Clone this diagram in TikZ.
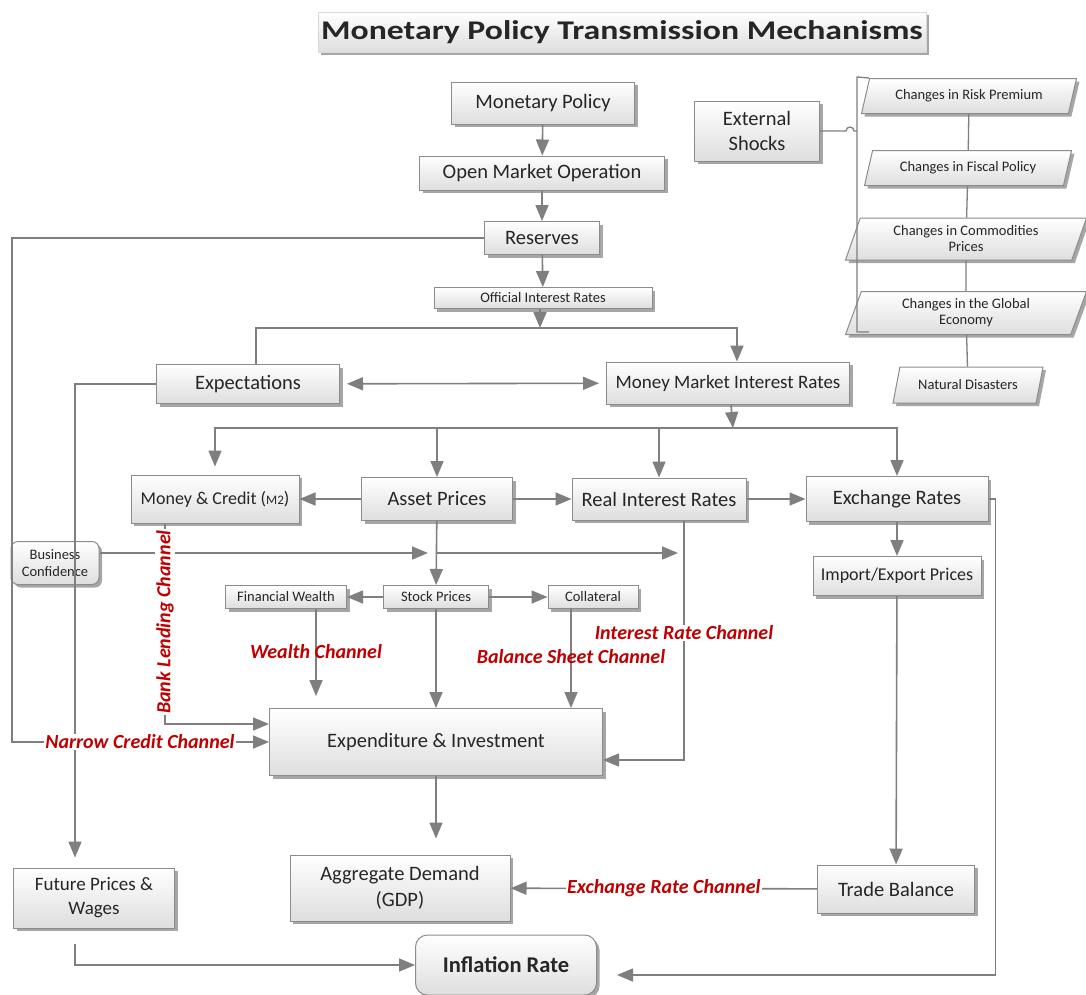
\documentclass[tikz,border=0pt]{standalone}
\usepackage{fontspec}
\setmainfont{Carlito}
\usetikzlibrary{arrows.meta,shapes.geometric,shadows}
\definecolor{linegray}{HTML}{7F7F7F}
\definecolor{boxline}{HTML}{8C8C8C}
\definecolor{chanred}{HTML}{C00000}
\tikzset{
  mbox/.style={draw=boxline, line width=1pt, top color=white, bottom color=black!13,
    drop shadow={shadow xshift=3pt, shadow yshift=-3pt, fill=black, opacity=.35},
    align=center, inner sep=2pt, text=black!85, font=\fontsize{20.5}{25}\selectfont},
  smallbox/.style={mbox, font=\fontsize{14.5}{17}\selectfont},
  shock/.style={mbox, trapezium, trapezium left angle=64, trapezium right angle=116,
    trapezium stretches body, font=\fontsize{14.5}{16}\selectfont},
  channel/.style={text=chanred, inner sep=1pt, font=\fontsize{20}{22}\selectfont\bfseries\itshape},
  flow/.style={draw=linegray, line width=1.6pt},
  wire/.style={draw=linegray, line width=1.3pt}
}
\begin{document}
\begin{tikzpicture}[x=1pt, y=-1pt, >={Triangle[length=16pt,width=13pt]}]
    \fill[white] (0,0) rectangle (1086,994);
    \useasboundingbox (0,0) rectangle (1086,994);

    % Title
    \node[mbox, draw=black!15, minimum width=608pt, minimum height=40pt,
      font=\fontsize{27}{30}\selectfont\bfseries] (title) at (622,32)
      {\scalebox{1.25}[1]{Monetary Policy Transmission Mechanisms}};

    % Main chain from the central bank
    \node[mbox, minimum width=183pt, minimum height=42pt] (mp) at (543,103) {Monetary Policy};
    \node[mbox, minimum width=245pt, minimum height=34pt] (omo) at (542,173) {Open Market Operation};
    \node[mbox, minimum width=115pt, minimum height=33pt] (res) at (542,238) {Reserves};
    \node[smallbox, minimum width=218pt, minimum height=21pt] (oir) at (543,298) {Official Interest Rates};

    % External shocks and their sources
    \node[mbox, minimum width=125pt, minimum height=60pt] (es) at (757,131) {External\\Shocks};
    \node[shock, minimum width=215pt, minimum height=35pt] (rp) at (969,96) {Changes in Risk Premium};
    \node[shock, minimum width=207pt, minimum height=35pt] (fp) at (968,168) {Changes in Fiscal Policy};
    \node[shock, minimum width=241pt, minimum height=42pt] (cp) at (966,239) {Changes in Commodities\\Prices};
    \node[shock, minimum width=241pt, minimum height=43pt] (ge) at (966,313) {Changes in the Global\\Economy};
    \node[shock, minimum width=150pt, minimum height=36pt] (nd) at (968,385) {Natural Disasters};

    % Market rates and expectations
    \node[mbox, minimum width=183pt, minimum height=39pt] (expct) at (248,384) {Expectations};
    \node[mbox, minimum width=243pt, minimum height=42pt, font=\fontsize{19}{22}\selectfont] (mmir) at (728,383) {Money Market Interest Rates};

    % Second row
    \node[mbox, minimum width=168pt, minimum height=48pt, font=\fontsize{18}{21}\selectfont] (mc) at (215,499)
      {Money \& Credit ({\fontsize{13}{13}\selectfont M2})};
    \node[mbox, minimum width=151pt, minimum height=43pt] (ap) at (437,499) {Asset Prices};
    \node[mbox, minimum width=174pt, minimum height=42pt] (rir) at (659,499) {Real Interest Rates};
    \node[mbox, minimum width=182pt, minimum height=45pt] (er) at (897,499) {Exchange Rates};
    \node[mbox, minimum width=168pt, minimum height=39pt, font=\fontsize{18}{21}\selectfont] (iep) at (897,576) {Import/Export Prices};

    % Small boxes under asset prices
    \node[smallbox, rounded corners=7pt, minimum width=88pt, minimum height=43pt] (bc) at (55,563) {Business\\Confidence};
    \node[smallbox, minimum width=121pt, minimum height=23pt] (fw) at (286,597) {Financial Wealth};
    \node[smallbox, minimum width=105pt, minimum height=23pt] (sp) at (436,597) {Stock Prices};
    \node[smallbox, minimum width=90pt, minimum height=23pt] (col) at (593,597) {Collateral};

    % Lower part
    \node[mbox, minimum width=333pt, minimum height=67pt] (ei) at (436,742) {Expenditure \& Investment};
    \node[mbox, minimum width=220pt, minimum height=66pt, font=\fontsize{20.5}{26}\selectfont] (ad) at (400,888) {Aggregate Demand\\(GDP)};
    \node[mbox, minimum width=157pt, minimum height=48pt] (tb) at (896,889) {Trade Balance};
    \node[mbox, minimum width=161pt, minimum height=60pt, font=\fontsize{19}{24}\selectfont] (fpw) at (94,898) {Future Prices \&\\Wages};
    \node[mbox, rounded corners=12pt, minimum width=181pt, minimum height=60pt,
      font=\fontsize{22.5}{26}\selectfont\bfseries] (ir) at (506,965) {Inflation Rate};

    % Arrows of the main chain
    \draw[flow, ->] (mp) -- (omo);
    \draw[flow, ->] (omo) -- (res);
    \draw[flow, ->] (res) -- (oir);
    \coordinate (oirsplit) at (540,328);
    \draw[flow, ->] (oir.south -| oirsplit) -- (oirsplit);
    \draw[flow, ->] ([xshift=8pt]expct.north) |- (oirsplit) -| ([xshift=9pt]mmir.north);
    \draw[flow, <->, shorten <=7pt, shorten >=7pt] (expct) -- (mmir);

    % Money market rates split into four
    \coordinate (mmsplit) at (733,428);
    \draw[flow, ->] ([xshift=3pt]mmir.south) -- (mmsplit);
    \draw[flow, ->, shorten >=8pt] (mmsplit) -| (mc.north);
    \draw[flow, ->] (mmsplit) -| (er.north);
    \draw[flow, ->] (mmsplit -| ap.north) -- (ap.north);
    \draw[flow, ->] (mmsplit -| rir.north) -- (rir.north);

    % Second row links
    \draw[flow, ->] (ap) -- (mc);
    \draw[flow, ->] (ap) -- (rir);
    \draw[flow, ->] (rir) -- (er);
    \draw[flow, ->] (er) -- (iep);
    \draw[flow, ->] (iep) -- (tb);
    \draw[flow, ->, shorten >=20pt] (er.east) -- ++(7,0) |- ([yshift=-10pt]ir.east);

    % Asset prices channels
    \draw[flow, ->] (ap) -- (sp);
    \draw[flow, ->] (sp) -- (fw);
    \draw[flow, ->] (sp) -- (col);
    \draw[flow, ->, shorten >=12pt] ([xshift=30pt]fw.south) -- ([xshift=30pt]fw.south |- ei.north);
    \draw[flow, ->] (sp) -- (sp |- ei.north);
    \draw[flow, ->] ([xshift=-22pt]col.south) -- ([xshift=-22pt]col.south |- ei.north);
    \draw[flow, ->] ([xshift=25pt]rir.south) |- ([yshift=-18pt]ei.east);

    % Credit channels
    \draw[flow, ->] (res.west) -- (12,238) |- (ei.west);
    \draw[flow, ->] ([xshift=-50pt]mc.south) |- ([yshift=18pt]ei.west);

    % Business confidence
    \coordinate (bcap) at (437,553);
    \coordinate (bcrir) at (684,553);
    \draw[flow, ->, shorten >=9pt] ([yshift=10pt]bc.east) -- (bcap);
    \draw[flow, ->, shorten >=6pt] (bcap) -- (bcrir);

    % Expectations to prices and wages, then inflation
    \draw[flow, ->, shorten >=10pt] (expct.west) -| ([xshift=-19pt]fpw.north);
    \draw[flow, ->, shorten <=15pt] ([xshift=-19pt]fpw.south) |- (ir.west);

    % Demand side
    \draw[flow, ->, shorten >=16pt] (ei) -- (ei.south |- ad.north);
    \draw[flow, ->] (tb) -- node[channel, fill=white] (erc) {Exchange Rate Channel} (ad);

    % Bracket of external shocks
    \coordinate (brtop) at (857,77);
    \coordinate (brbot) at (857,332);
    \draw[wire] (rp.top left corner) -- (brtop) -- (brbot) -- ++(12,0);
    \draw[wire] (es.east) -- (846,131) arc[start angle=180, end angle=360, radius=4] -- (857,131);
    \foreach \a/\b in {rp/fp, fp/cp, cp/ge, ge/nd} {
      \draw[wire] (\a) -- (\b);
    }

    % Channel labels
    \node[channel] (wc) at (316,652) {Wealth Channel};
    \node[channel] (bsc) at (571,657) {Balance Sheet Channel};
    \node[channel, fill=white] (irc) at (684,633) {Interest Rate Channel};
    \node[channel, fill=white] (ncc) at (140,742) {Narrow Credit Channel};
    \node[channel, fill=white, rotate=90] (blc) at (165,622) {Bank Lending Channel};
\end{tikzpicture}
\end{document}
